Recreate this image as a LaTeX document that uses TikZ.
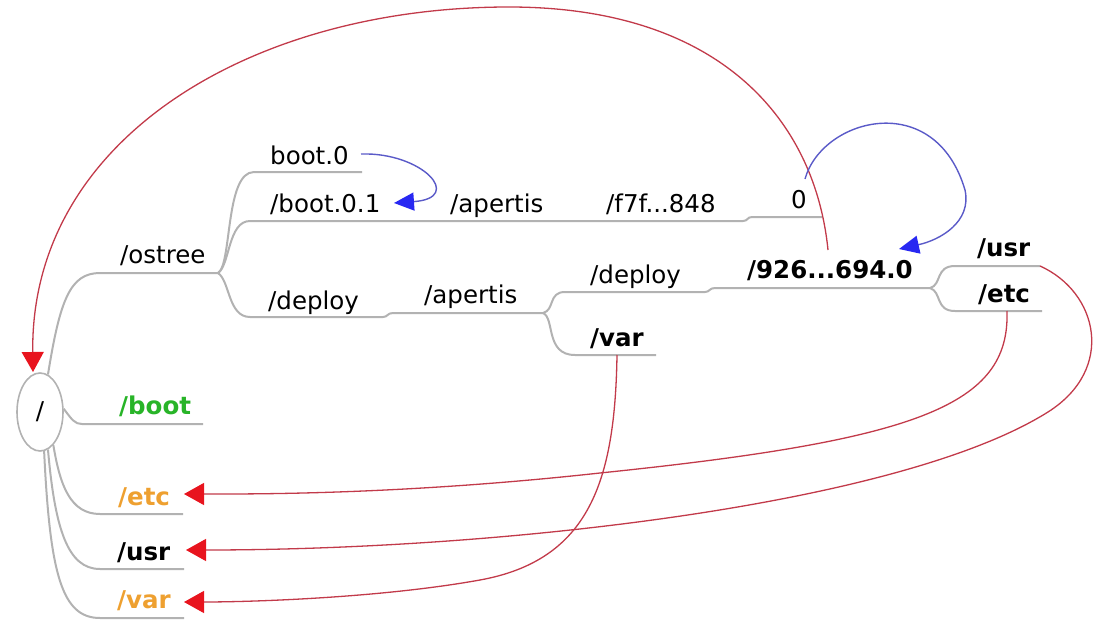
\documentclass[tikz,border=0pt]{standalone}
\usepackage{fontspec}
\setmainfont{DejaVu Sans}
\usetikzlibrary{arrows.meta,shapes.geometric}
\definecolor{branch}{HTML}{B2B2B2}
\definecolor{redline}{HTML}{C23A4A}
\definecolor{redhead}{HTML}{E8141E}
\definecolor{blueline}{HTML}{5A5AC8}
\definecolor{bluehead}{HTML}{2828F2}
\definecolor{greentxt}{HTML}{28B428}
\definecolor{orangetxt}{HTML}{EEA030}
\begin{document}
\begin{tikzpicture}[x=1pt,y=-1pt,
  lbl/.style={anchor=base west,inner sep=0pt,font=\fontsize{24.5}{28}\selectfont},
  blbl/.style={lbl,font=\fontsize{24.5}{28}\selectfont\bfseries},
  br/.style={draw=branch,line width=2pt},
  redarr/.style={draw=redline,line width=1.3pt,-{Triangle[length=20pt,width=22pt,color=redhead]}},
  bluearr/.style={draw=blueline,line width=1.4pt,-{Triangle[length=20pt,width=18pt,color=bluehead]}}]
\useasboundingbox (0,0) rectangle (1093,621);

% root
\node[draw=branch,line width=1.6pt,ellipse,minimum width=46pt,minimum height=78pt,inner sep=0pt,
  font=\fontsize{24.5}{28}\selectfont] (root) at (40,412) {/};

% texts
\node[lbl] (ostree) at (120,263) {/ostree};
\node[lbl] (boot0) at (270,164) {boot.0};
\node[lbl] (boot01) at (270,212) {/boot.0.1};
\node[lbl] (apU) at (450,212) {/apertis};
\node[lbl] (f7f) at (606,212) {/f7f...848};
\node[lbl] (zero) at (791,208) {0};
\node[lbl] (depL) at (268,309) {/deploy};
\node[lbl] (apL) at (424,303) {/apertis};
\node[lbl] (depR) at (590,283) {/deploy};
\node[blbl] (varM) at (590,346) {/var};
\node[blbl] (dep926) at (747,278) {/926...694.0};
\node[blbl] (usrR) at (977,256) {/usr};
\node[blbl] (etcR) at (978,302) {/etc};
\node[blbl,text=greentxt] (bootL) at (119,414) {/boot};
\node[blbl,text=orangetxt] (etcL) at (118,505) {/etc};
\node[blbl] (usrL) at (117,560) {/usr};
\node[blbl,text=orangetxt] (varL) at (117,608) {/var};

% line end coordinates
\coordinate (ostreeA) at (100,273); \coordinate (ostreeB) at (218,273);
\coordinate (boot0A) at (254,172); \coordinate (boot0B) at (362,172);
\coordinate (boot01A) at (250,221); \coordinate (boot01B) at (445,221);
\coordinate (apUB) at (600,221); \coordinate (f7fB) at (743,221);
\coordinate (zeroA) at (752,217); \coordinate (zeroB) at (822,217);
\coordinate (depLA) at (250,317); \coordinate (depLB) at (383,317);
\coordinate (apLA) at (393,313); \coordinate (apLB) at (543,313);
\coordinate (depRA) at (565,292); \coordinate (depRB) at (705,292);
\coordinate (varMA) at (575,355); \coordinate (varMB) at (656,355);
\coordinate (d926A) at (715,288); \coordinate (d926B) at (930,288);
\coordinate (usrRA) at (955,266); \coordinate (usrRB) at (1040,266);
\coordinate (etcRA) at (955,311); \coordinate (etcRB) at (1042,311);
\coordinate (bootLA) at (82,424); \coordinate (bootLB) at (203,424);
\coordinate (etcLA) at (100,514); \coordinate (etcLB) at (183,514);
\coordinate (usrLA) at (100,569); \coordinate (usrLB) at (184,569);
\coordinate (varLA) at (100,618); \coordinate (varLB) at (184,618);

% tree branches
\draw[br] (root.78) .. controls (60,300) and (70,273) .. (ostreeA) -- (ostreeB);
\draw[br] (ostreeB) .. controls (232,265) and (225,172) .. (boot0A) -- (boot0B);
\draw[br] (ostreeB) .. controls (230,265) and (228,221) .. (boot01A) -- (boot01B) -- (apUB) -- (f7fB)
  .. controls (748,221) and (747,217) .. (zeroA) -- (zeroB);
\draw[br] (ostreeB) .. controls (230,281) and (228,317) .. (depLA) -- (depLB)
  .. controls (388,317) and (387,313) .. (apLA) -- (apLB);
\draw[br] (apLB) .. controls (555,310) and (548,292) .. (depRA) -- (depRB)
  .. controls (710,292) and (709,288) .. (d926A) -- (d926B);
\draw[br] (apLB) .. controls (555,318) and (545,355) .. (varMA) -- (varMB);
\draw[br] (d926B) .. controls (942,285) and (935,266) .. (usrRA) -- (usrRB);
\draw[br] (d926B) .. controls (942,292) and (935,311) .. (etcRA) -- (etcRB);
\draw[br] (root.8) .. controls (72,420) and (75,424) .. (bootLA) -- (bootLB);
\draw[br] (root.-68) .. controls (60,485) and (70,514) .. (etcLA) -- (etcLB);
\draw[br] (root.-78) .. controls (55,530) and (68,569) .. (usrLA) -- (usrLB);
\draw[br] (root.-84) .. controls (50,575) and (62,618) .. (varLA) -- (varLB);

% red links
\coordinate (topStart) at (828,250);
\coordinate (topTip) at (33,372);
\coordinate (etcTip) at (184,494);
\coordinate (usrTip) at (186,550);
\coordinate (varTip) at (184,602);
\coordinate (etcStart) at (1007,311);
\coordinate (varStart) at (617,355);
\draw[redarr] (topStart) .. controls (815,120) and (720,7) .. (509,7)
  .. controls (250,7) and (30,140) .. (topTip);
\draw[redarr] (usrRB) .. controls (1098,292) and (1116,369) .. (1048,412)
  .. controls (900,505) and (500,550) .. (usrTip);
\draw[redarr] (etcStart) .. controls (1010,405) and (920,440) .. (600,473)
  .. controls (400,495) and (250,494) .. (etcTip);
\draw[redarr] (varStart) .. controls (615,480) and (590,560) .. (480,580)
  .. controls (380,598) and (250,602) .. (varTip);

% blue links
\coordinate (b0Start) at (361,154);
\coordinate (b01Tip) at (394,203);
\coordinate (zStart) at (805,179);
\coordinate (dTip) at (899,249);
\draw[bluearr] (b0Start) .. controls (422,152) and (465,198) .. (b01Tip);
\draw[bluearr] (zStart) .. controls (822,118) and (935,88) .. (965,190)
  .. controls (972,222) and (940,240) .. (dTip);
\end{tikzpicture}
\end{document}
